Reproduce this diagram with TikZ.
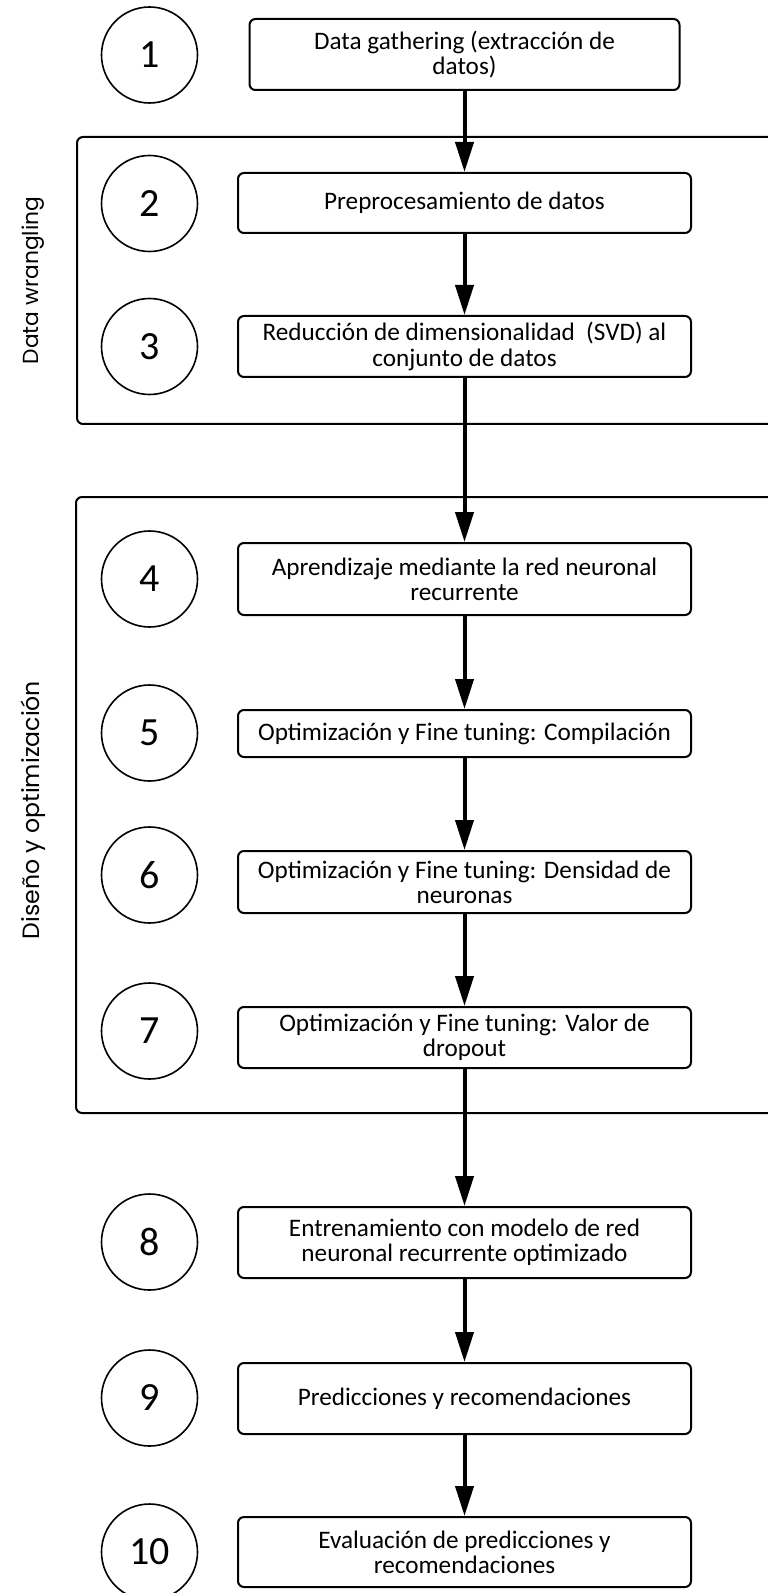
\documentclass[tikz,border=0pt]{standalone}
\usepackage{fontspec}
\setmainfont{Carlito}
\newfontfamily\sidefont{Poppins}
\usetikzlibrary{arrows.meta}

\begin{document}
\begin{tikzpicture}[x=0.5pt, y=0.5pt,
    stepbox/.style={draw, line width=1pt, rounded corners=3pt, minimum width=226.5pt,
        inner sep=0pt, align=center, font=\fontsize{12.6}{12.6}\selectfont},
    numcircle/.style={draw, circle, line width=0.8pt, minimum size=48pt, inner sep=0pt,
        font=\fontsize{20}{20}\selectfont},
    flow/.style={line width=2pt, -{Triangle[length=15pt, width=9pt]}},
    groupbox/.style={line width=1pt, rounded corners=3pt},
    sidelabel/.style={rotate=90, font=\sidefont\fontsize{#1}{12}\selectfont}]

    % Fix the page size
    \useasboundingbox (0,0) rectangle (767,-1593);

    % Draw the two groups (open to the right)
    \draw[groupbox] (800,-137) -| (77,-424) -- (800,-424);
    \draw[groupbox] (800,-497) -| (76,-1113) -- (800,-1113);

    % Group labels
    \node[sidelabel=10.9] (L1) at (33,-280.5) {Data wrangling};
    \node[sidelabel=11.8] (L2) at (33,-810) {Diseño y optimización};

    % Define the step boxes
    \node[stepbox, minimum width=215pt, minimum height=35.5pt] (S1) at (464.5,-54.5)
        {Data gathering (extracción de\\datos)};
    \node[stepbox, minimum height=30pt] (S2) at (464.5,-203) {Preprocesamiento de datos};
    \node[stepbox, minimum height=30.5pt] (S3) at (464.5,-346.5)
        {Reducción de dimensionalidad\ \ (SVD) al\\conjunto de datos};
    \node[stepbox, minimum height=36pt] (S4) at (464.5,-579)
        {Aprendizaje mediante la red neuronal\\recurrente};
    \node[stepbox, minimum height=23.5pt] (S5) at (464.5,-733.5)
        {Optimización y Fine tuning: Compilación};
    \node[stepbox, minimum height=31pt] (S6) at (464.5,-882)
        {Optimización y Fine tuning: Densidad de\\neuronas};
    \node[stepbox, minimum height=30.5pt] (S7) at (464.5,-1037.5)
        {Optimización y Fine tuning: Valor de\\dropout};
    \node[stepbox, minimum height=35.5pt] (S8) at (464.5,-1242.5)
        {Entrenamiento con modelo de red\\neuronal recurrente optimizado};
    \node[stepbox, minimum height=35.5pt] (S9) at (464.5,-1398.5)
        {Predicciones y recomendaciones};
    \node[stepbox, minimum height=35pt] (S10) at (464.5,-1552)
        {Evaluación de predicciones y\\recomendaciones};

    % Define the numbered circles
    \node[numcircle] (N1) at (149.5,-55) {1};
    \node[numcircle] (N2) at (149.5,-203.5) {2};
    \node[numcircle] (N3) at (149.5,-346.5) {3};
    \node[numcircle] (N4) at (149.5,-579) {4};
    \node[numcircle] (N5) at (149.5,-733) {5};
    \node[numcircle] (N6) at (149.5,-875) {6};
    \node[numcircle] (N7) at (149.5,-1031) {7};
    \node[numcircle] (N8) at (149.5,-1242) {8};
    \node[numcircle] (N9) at (149.5,-1398) {9};
    \node[numcircle] (N10) at (149.5,-1552) {10};

    % Draw the arrows between steps
    \draw[flow] (S1) -- (S2);
    \draw[flow] (S2) -- (S3);
    \draw[flow] (S3) -- (S4);
    \draw[flow] (S4) -- (S5);
    \draw[flow] (S5) -- (S6);
    \draw[flow] (S6) -- (S7);
    \draw[flow] (S7) -- (S8);
    \draw[flow] (S8) -- (S9);
    \draw[flow] (S9) -- (S10);

\end{tikzpicture}
\end{document}
